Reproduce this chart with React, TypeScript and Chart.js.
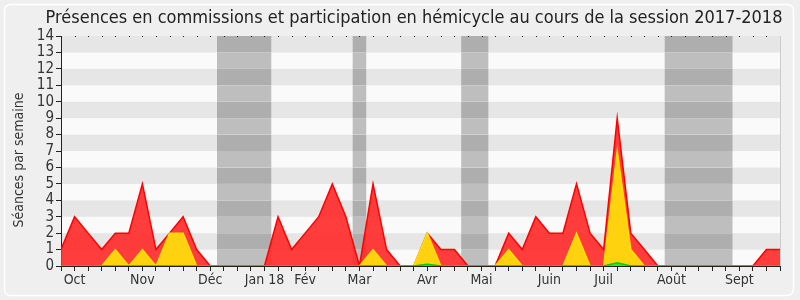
import React, { useEffect, useRef } from "react";
import { Chart, registerables } from "chart.js";

Chart.register(...registerables);

const weeks: number[] = Array.from({ length: 54 }, (_, i) => i);
const monthLabels: Record<number, string> = {
  1: "Oct", 6: "Nov", 11: "Déc", 15: "Jan 18", 18: "Fév", 22: "Mar",
  27: "Avr", 31: "Mai", 36: "Juin", 40: "Juil", 45: "Août", 50: "Sept",
};
const commissions: number[] = [
  1, 3, 2, 1, 2, 2, 5, 1, 2, 3, 1, 0, 0, 0, 0, 0, 3, 1, 2, 3, 5, 3, 0, 5, 1, 0, 0,
  2, 1, 1, 0, 0, 0, 2, 1, 3, 2, 2, 5, 2, 1, 9, 2, 1, 0, 0, 0, 0, 0, 0, 0, 0, 1, 1,
];
const interventions: number[] = [
  0, 0, 0, 0, 1, 0, 1, 0, 2, 2, 0, 0, 0, 0, 0, 0, 0, 0, 0, 0, 0, 0, 0, 1, 0, 0, 0,
  2, 0, 0, 0, 0, 0, 1, 0, 0, 0, 0, 2, 0, 0, 7, 1, 0, 0, 0, 0, 0, 0, 0, 0, 0, 0, 0,
];
const hemicycle: number[] = [
  0, 0, 0, 0, 0, 0, 0, 0, 0, 0, 0, 0, 0, 0, 0, 0, 0, 0, 0, 0, 0, 0, 0, 0, 0, 0, 0,
  0.1, 0, 0, 0, 0, 0, 0, 0, 0, 0, 0, 0, 0, 0, 0.2, 0, 0, 0, 0, 0, 0, 0, 0, 0, 0, 0, 0,
];
const vacations: [number, number][] = [
  [11.5, 15.5], [21.5, 22.5], [29.5, 31.5], [44.5, 49.5],
];
const title = "Présences en commissions et participation en hémicycle au cours de la session 2017-2018";
const yTitle = "Séances par semaine";
const FONT = "'DejaVu Sans Condensed', 'DejaVu Sans', sans-serif";

const decor = {
  id: "decor",
  beforeDraw(chart: any) {
    const { ctx, chartArea: a, scales } = chart;
    const x = scales.x, y = scales.y;
    ctx.save();
    ctx.fillStyle = "#efefef";
    ctx.fillRect(0, 0, chart.width, chart.height);
    ctx.strokeStyle = "#ffffff";
    ctx.lineWidth = 1.5;
    ctx.beginPath();
    ctx.roundRect(4.5, 4.5, 789, 291, 6);
    ctx.stroke();
    for (let v = 0; v < 14; v++) {
      const top = y.getPixelForValue(v + 1), bot = y.getPixelForValue(v);
      ctx.fillStyle = v % 2 === 1 ? "#e6e6e6" : "#fafafa";
      ctx.fillRect(a.left, top, a.right - a.left, bot - top);
      for (const [s, e] of vacations) {
        const l = x.getPixelForValue(s), r = x.getPixelForValue(e);
        ctx.fillStyle = v % 2 === 1 ? "#aeaeae" : "#bebebe";
        ctx.fillRect(l, top, r - l, bot - top);
      }
    }
    ctx.fillStyle = "#222";
    for (const w of weeks) {
      const px = Math.round(x.getPixelForValue(w));
      ctx.fillRect(px, a.top, 1, 1);
    }
    ctx.strokeStyle = "#cccccc";
    ctx.lineWidth = 1;
    ctx.beginPath();
    ctx.moveTo(a.right + 0.5, a.top);
    ctx.lineTo(a.right + 0.5, a.bottom);
    ctx.stroke();
    ctx.fillStyle = "#222";
    ctx.font = `18px ${FONT}`;
    ctx.textAlign = "center";
    ctx.textBaseline = "middle";
    ctx.fillText(title, 414, 18);
    ctx.translate(19, 160);
    ctx.rotate(-Math.PI / 2);
    ctx.font = `14px ${FONT}`;
    ctx.fillStyle = "#333";
    ctx.fillText(yTitle, 0, 0);
    ctx.restore();
  },
};

export default function App() {
  const ref = useRef<HTMLCanvasElement | null>(null);
  useEffect(() => {
    if (!ref.current) return;
    const chart = new Chart(ref.current, {
      type: "line",
      data: {
        datasets: [
          {
            data: weeks.map((w, i) => ({ x: w, y: commissions[i] })),
            borderColor: "#ff0000",
            backgroundColor: "rgba(255,40,40,0.9)",
            fill: "origin",
            borderWidth: 1.5,
            pointRadius: 0,
            tension: 0,
            order: 3,
          },
          {
            data: weeks.map((w, i) => ({ x: w, y: interventions[i] })),
            borderColor: "#ffe000",
            backgroundColor: "#ffd20f",
            fill: "origin",
            borderWidth: 1.5,
            pointRadius: 0,
            tension: 0,
            order: 2,
          },
          {
            data: weeks.map((w, i) => ({ x: w, y: hemicycle[i] })),
            borderColor: "#00cc00",
            backgroundColor: "#22ee22",
            fill: "origin",
            borderWidth: 1.5,
            pointRadius: 0,
            tension: 0,
            order: 1,
          },
        ],
      },
      plugins: [decor],
      options: {
        animation: false,
        responsive: false,
        maintainAspectRatio: false,
        layout: { padding: { top: 36, right: 20, left: 0, bottom: 0 } },
        plugins: { legend: { display: false }, tooltip: { enabled: false }, title: { display: false } },
        scales: {
          x: {
            type: "linear",
            min: 0,
            max: 53,
            afterFit: (s: any) => { s.height = 34; },
            afterBuildTicks: (s: any) => { s.ticks = weeks.map((w) => ({ value: w })); },
            grid: { drawOnChartArea: false, drawTicks: true, tickLength: 5, color: "#222" },
            border: { display: true, color: "#222", width: 1 },
            ticks: {
              autoSkip: false,
              maxRotation: 0,
              padding: 1,
              color: "#333",
              font: { family: FONT, size: 14 },
              callback: (v: any) => monthLabels[Number(v)] ?? "",
            },
          },
          y: {
            min: 0,
            max: 14,
            afterFit: (s: any) => { s.width = 61; },
            grid: { drawOnChartArea: false, drawTicks: true, tickLength: 5, color: "#222" },
            border: { display: true, color: "#222", width: 1 },
            ticks: {
              stepSize: 1,
              autoSkip: false,
              padding: 2,
              color: "#333",
              font: { family: FONT, size: 15 },
            },
          },
        },
      },
    });
    return () => chart.destroy();
  }, []);
  return (
    <div style={{ position: "fixed", left: 0, top: 0, width: 800, height: 300 }}>
      <canvas ref={ref} width={800} height={300} style={{ width: 800, height: 300 }} />
    </div>
  );
}
